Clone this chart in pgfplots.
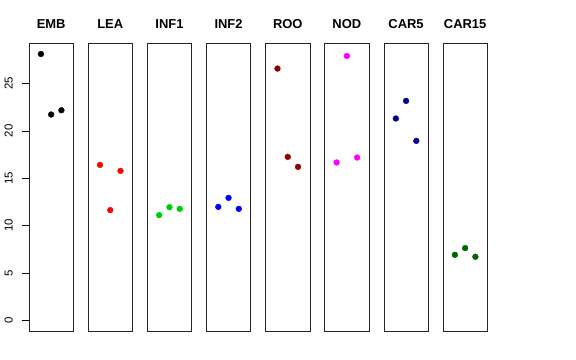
\documentclass[border=0pt]{standalone}
\usepackage{pgfplots}
\pgfplotsset{compat=1.18}
\usepackage{fontspec}
\setmainfont{Liberation Sans}
\definecolor{cgreen}{HTML}{00CD00}
\definecolor{cdarkred}{HTML}{8B0000}
\definecolor{cmagenta}{HTML}{FF00FF}
\definecolor{cdarkblue}{HTML}{00008B}
\definecolor{cdarkgreen}{HTML}{006400}
\begin{document}
\begin{tikzpicture}
\useasboundingbox (0,0) rectangle (576bp,360bp);
\pgfplotsset{
  panel/.style={at={(#1bp,29bp)}, anchor=south west,
    width=44.3bp, height=287.7bp, scale only axis,
    xmin=-0.16, xmax=4.16, ymin=-1.125, ymax=29.25,
    xtick=\empty, ytick=\empty,
    axis line style={line width=0.8bp, black!85},
    title style={at={(0.5,1)}, anchor=base, yshift=9bp, inner sep=0pt,
      font=\fontsize{13}{13}\selectfont\bfseries},
    clip=false},
  pts/.style={only marks, mark=*, mark size=2.9bp, color=#1}
}
\begin{axis}[panel=29, title={EMB},
  ytick={0,5,10,15,20,25}, yticklabels={0,5,10,15,20,25},
  tick align=outside, major tick length=7bp, ytick pos=left,
  tick style={line width=0.8bp, black},
  /pgf/number format/assume math mode=true,
  yticklabel style={xshift=-9bp, rotate=90, anchor=south, inner sep=0pt,
    font=\fontsize{11.5}{11.5}\selectfont}]
\addplot[pts=black] coordinates {(1,28.12) (2,21.73) (3,22.18)};
\end{axis}
\begin{axis}[panel=88.1, title={LEA}]
\addplot[pts=red] coordinates {(1,16.41) (2,11.64) (3,15.78)};
\end{axis}
\begin{axis}[panel=147.3, title={INF1}]
\addplot[pts=cgreen] coordinates {(1,11.11) (2,11.95) (3,11.77)};
\end{axis}
\begin{axis}[panel=206.4, title={INF2}]
\addplot[pts=blue] coordinates {(1,11.98) (2,12.93) (3,11.77)};
\end{axis}
\begin{axis}[panel=265.6, title={ROO}]
\addplot[pts=cdarkred] coordinates {(1,26.58) (2,17.26) (3,16.20)};
\end{axis}
\begin{axis}[panel=324.7, title={NOD}]
\addplot[pts=cmagenta] coordinates {(1,16.67) (2,27.91) (3,17.19)};
\end{axis}
\begin{axis}[panel=383.9, title={CAR5}]
\addplot[pts=cdarkblue] coordinates {(1,21.31) (2,23.17) (3,18.95)};
\end{axis}
\begin{axis}[panel=443.0, title={CAR15}]
\addplot[pts=cdarkgreen] coordinates {(1,6.92) (2,7.63) (3,6.71)};
\end{axis}
\end{tikzpicture}
\end{document}
